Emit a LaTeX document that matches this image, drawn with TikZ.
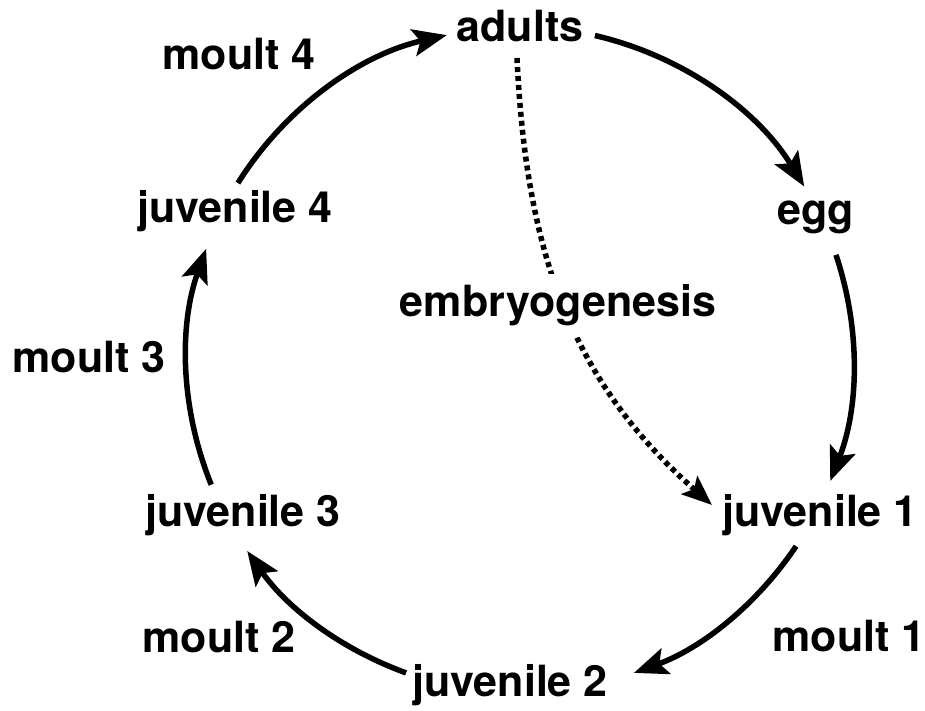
\documentclass[tikz,border=0pt]{standalone}
\usepackage{fontspec}
\setmainfont{TeX Gyre Heros}
\usetikzlibrary{arrows.meta,calc,backgrounds}
\begin{document}
\begin{tikzpicture}[x=1pt,y=1pt,
  lbl/.style={anchor=base,inner sep=0pt,font=\fontsize{43}{50}\selectfont\bfseries},
  arr/.style={line width=5.5pt,-{Stealth[length=34pt,width=27pt,inset=7pt]}},
  dotarr/.style={line width=5.5pt,dash pattern=on 5pt off 4pt,-{Stealth[length=30pt,width=24pt,inset=6pt]}},
  arcbend/.style={bend left=#1,looseness=0.89}]
\useasboundingbox (0,0) rectangle (925,711);
\coordinate (c) at (520,351);
% stage labels
\node[lbl] (adults) at (520,669) {adults};
\node[lbl] (egg)    at (816,486) {egg};
\node[lbl] (juv1)   at (820,184) {juvenile 1};
\node[lbl] (juv2)   at (510,14)  {juvenile 2};
\node[lbl] (juv3)   at (243,184) {juvenile 3};
\node[lbl] (juv4)   at (235,488) {juvenile 4};
\node[lbl] (m4)     at (239,641) {moult 4};
\node[lbl] (m3)     at (89,338)  {moult 3};
\node[lbl] (m2)     at (219,58)  {moult 2};
\node[lbl] (m1)     at (849,59)  {moult 1};
\node[lbl,fill=white,inner xsep=3pt,inner ysep=11pt] (emb) at (558,394) {embryogenesis};
% connector ends on the cycle circle
\coordinate (s1) at ($(c)+(77:333)$);
\coordinate (e1) at ($(c)+(31.4:333)$);
\coordinate (s2) at ($(c)+(18.4:333)$);
\coordinate (e2) at ($(c)+(-21.3:333)$);
\coordinate (s3) at ($(c)+(-34:333)$);
\coordinate (e3) at ($(c)+(-70:333)$);
\coordinate (s4) at ($(c)+(-110:333)$);
\coordinate (e4) at ($(c)+(-145:333)$);
\coordinate (s5) at ($(c)+(-158:333)$);
\coordinate (e5) at ($(c)+(-199.5:333)$);
\coordinate (s6) at ($(c)+(147.9:333)$);
\coordinate (e6) at ($(c)+(102.7:333)$);
\draw[arr] (s1) to[arcbend=22.8] (e1);
\draw[arr] (s2) to[arcbend=19.9] (e2);
\draw[arr] (s3) to[arcbend=18] (e3);
\draw[arr] (s4) to[arcbend=17.5] (e4);
\draw[arr] (s5) to[arcbend=20.8] (e5);
\draw[arr] (s6) to[arcbend=22.6] (e6);
% dotted embryogenesis path
\coordinate (d0) at (517,653);
\coordinate (d1) at (712,206);
\begin{pgfonlayer}{background}
\draw[dotarr] (d0) .. controls (526,461) and (570,331) .. (d1);
\end{pgfonlayer}
\end{tikzpicture}
\end{document}
